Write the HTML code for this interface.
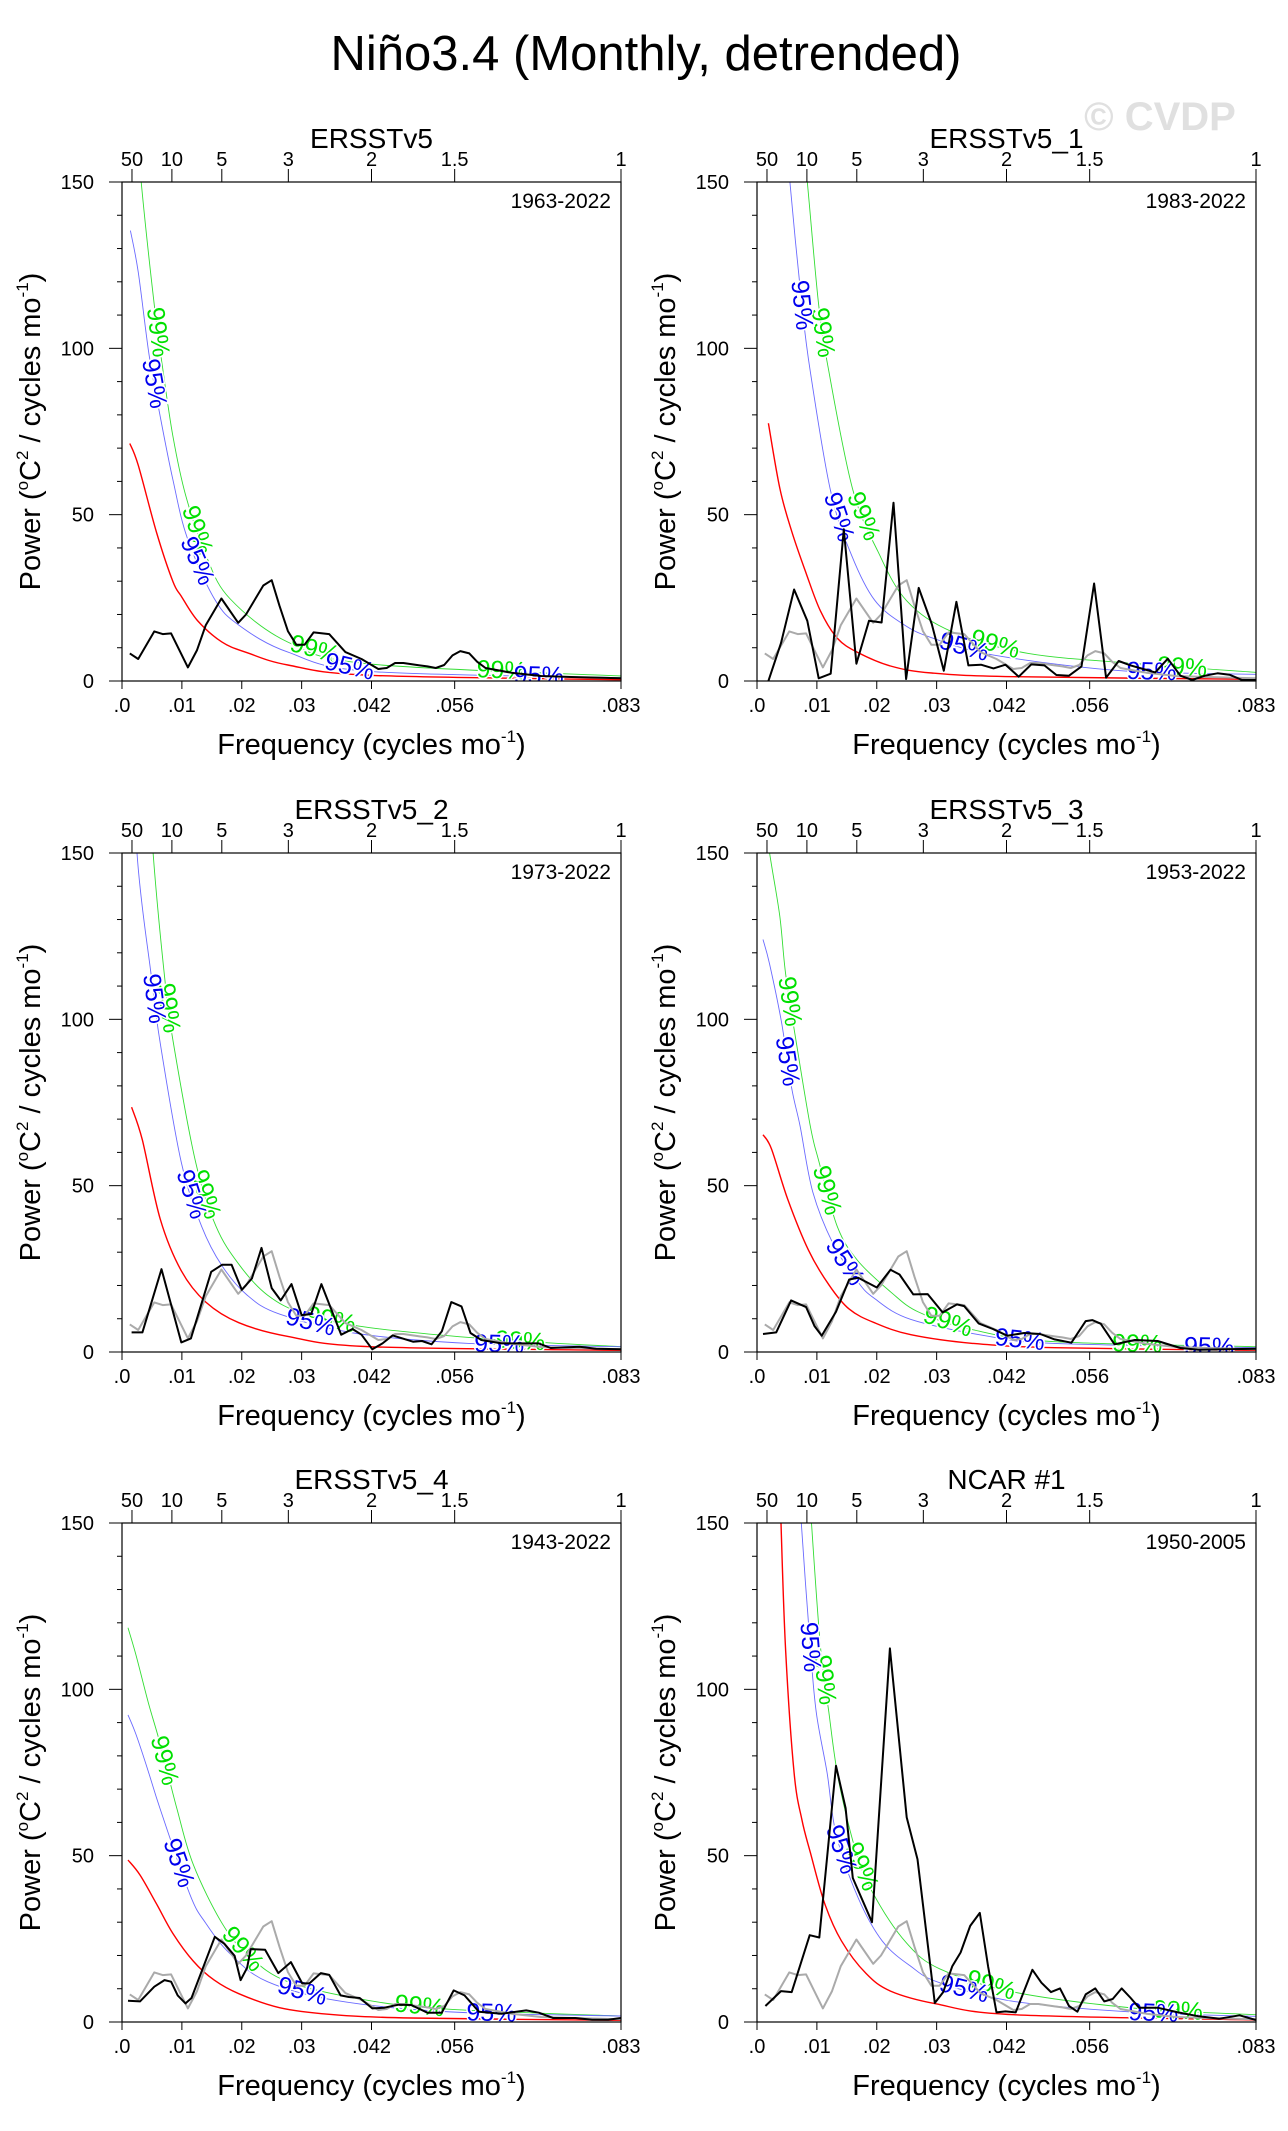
<!DOCTYPE html>
<html><head><meta charset="utf-8"><style>
html,body{margin:0;padding:0;background:#fff;}
svg{display:block;font-family:"Liberation Sans",Arial,sans-serif;}
</style></head><body>
<svg id="chart" width="1288" height="2131" viewBox="0 0 1288 2131" xmlns="http://www.w3.org/2000/svg">
<rect width="1288" height="2131" fill="#fff"/>
<text x="646" y="70" font-size="49" text-anchor="middle" fill="#000">Niño3.4 (Monthly, detrended)</text>
<text x="1160" y="130" font-size="40" font-weight="bold" text-anchor="middle" fill="#e0e0e0">© CVDP</text>
</svg>
<script>
// ---------- data ----------
const panelTitles=["ERSSTv5","ERSSTv5_1","ERSSTv5_2","ERSSTv5_3","ERSSTv5_4","NCAR #1"];
const panelYears=["1963-2022","1983-2022","1973-2022","1953-2022","1943-2022","1950-2005"];
const topPeriods=[50,10,5,3,2,1.5,1];
const bottomTickVals=[0,0.01,0.02,0.03,0.041667,0.055556,0.083333];
const bottomTickLabels=[".0",".01",".02",".03",".042",".056",".083"];
const yTickVals=[0,50,100,150];

// Panel 1 (ERSSTv5)
const p1SpecF=[.0013,.0027,.0054,.0068,.0082,.011,.0125,.014,.0166,.0194,.0207,.0236,.025,.0263,.0277,.0291,.0305,.032,.0346,.0373,.04,.0428,.0442,.0456,.047,.0497,.051,.0524,.0538,.0552,.0565,.058,.0593,.0607,.065,.07,.075,.08,.0833];
const p1SpecV=[8.3,6.6,14.9,14.1,14.3,4.1,9.2,16.8,24.8,17.5,20,28.7,30.3,22.6,15,10.9,10.9,14.6,14.1,8.7,6.6,3.6,3.9,5.4,5.4,4.7,4.4,3.9,4.8,7.7,9,8.3,5.8,3.9,2.5,1.5,1.2,1,0.8];
const p1RedF=[.0013,.0027,.0058,.0085,.0099,.0126,.0167,.0209,.0277,.0414,.0833];
const p1RedV=[71.4,64.9,44.5,29.9,25.5,18.2,11.7,8.5,4.8,1.7,0.4];
const p1BlueF=[.0014,.0027,.0045,.0064,.0085,.0109,.0154,.0195,.0277,.0414,.0833];
const p1BlueV=[135.4,123,98.4,79.4,60.5,43,24.8,16.8,8.7,2.9,1];
const p1GreenF=[.0014,.0032,.0054,.0068,.0085,.0106,.014,.018,.0277,.0414,.0833];
const p1GreenV=[190,150,113,94,73.6,56,37.9,24.8,11.7,5.1,1.5];
const p1BlueLab=[.0054,.0126,.038,.0696];
const p1GreenLab=[.006,.0126,.0322,.0634];

// Panel 2 (ERSSTv5_1)
const p2SpecF=[.0019,.004,.0062,.0084,.0103,.0123,.0145,.0166,.0187,.0208,.0228,.0249,.027,.0292,.0312,.0333,.0353,.0374,.0395,.0415,.0437,.0458,.048,.05,.0521,.0542,.0563,.0583,.0604,.0624,.0645,.0665,.0686,.0707,.0727,.0748,.0769,.0789,.081,.0833];
const p2SpecV=[0,11.4,27.5,18.1,0.8,2.2,45.6,5.2,18.1,17.6,53.6,0.6,28,17.1,3.1,23.8,4.7,4.9,3.8,4.9,1.3,5,4.7,1.8,1.6,4.4,29.3,1,6,4.7,3.6,2.6,6.7,1.6,0.3,1.6,2.3,1.9,0.3,0.3];
const p2RedF=[.0019,.0038,.0058,.0082,.0106,.0134,.0168,.0223,.0292,.0429,.0833];
const p2RedV=[77.5,58,45,32.4,21,12.9,8.6,4.5,2.4,1.3,0.5];
const p2BlueF=[.0035,.0045,.0055,.0075,.0089,.0123,.0158,.0196,.0244,.0292,.0395,.0607,.0833];
const p2BlueV=[200,175,150,113,93,57,37.8,24.4,17.1,13,7.8,3.1,2];
const p2GreenF=[.0055,.007,.0084,.0103,.012,.016,.0202,.025,.0326,.0453,.0635,.0833];
const p2GreenV=[200,175,150,113,93,57.5,38.9,24.1,14.8,8.3,5.2,2.6];
const p2BlueLab=[.0075,.0137,.0346,.0659];
const p2GreenLab=[.011,.0178,.0398,.071];

// Panel 3 (ERSSTv5_2)
const p3SpecF=[.0016,.0034,.0066,.0099,.0115,.0149,.0167,.0183,.02,.0217,.0233,.025,.0265,.0283,.03,.0316,.0333,.0366,.0385,.04,.0418,.0435,.0452,.0486,.0501,.0517,.0534,.055,.0567,.0582,.06,.0634,.0667,.0696,.0716,.0764,.0792,.0833];
const p3SpecV=[5.9,5.9,24.9,2.9,4.1,24.1,26.2,26.2,18.7,22.1,31.3,19.2,15.5,20.4,11.1,11.4,20.4,5.2,6.9,5.2,0.8,2.6,5,3.1,3.3,2.3,6.2,15,13.7,5.7,3.6,2.6,2.6,2.6,1.2,1.6,1,0.8];
const p3RedF=[.0016,.0034,.0064,.0099,.014,.0195,.0277,.0414,.0833];
const p3RedV=[73.6,63.7,39.9,24.4,15,8.8,4.7,1.6,0.5];
const p3BlueF=[.0016,.0025,.0049,.0064,.0099,.0133,.0167,.0209,.0263,.0387,.0579,.0833];
const p3BlueV=[200,150,113,92.7,57,37.8,25.9,17.1,11.4,5.7,2.6,1.6];
const p3GreenF=[.0035,.0052,.0071,.0085,.0123,.0157,.0195,.0243,.0305,.0414,.062,.0833];
const p3GreenV=[200,150,113,93.8,57,37.8,26.4,17.1,11.4,7.3,3.8,1.6];
const p3BlueLab=[.0054,.0116,.0315,.063];
const p3GreenLab=[.0078,.014,.0349,.0665];

// Panel 4 (ERSSTv5_3)
const p4SpecF=[.001,.0032,.0057,.0082,.0096,.0108,.0132,.0154,.0169,.02,.0223,.0238,.0261,.0285,.031,.0334,.0346,.037,.0394,.0418,.0446,.0473,.0497,.0525,.0549,.056,.0574,.0597,.0631,.0669,.0707,.0737,.0785,.0833];
const p4SpecV=[5.4,5.9,15.5,13.5,7.8,4.9,12.1,21.8,22.3,19.4,24.7,23.3,17.3,17.4,11.9,14.3,13.8,8.6,6.9,4.9,5.7,5.4,3.8,2.8,9.3,9.6,8.5,2.3,3.6,3.3,1.2,0.7,0.8,1];
const p4RedF=[.001,.0024,.0051,.0086,.012,.0154,.0196,.0257,.036,.0497,.0833];
const p4RedV=[65.3,61.1,46.1,30.6,20.2,12.9,8.8,5.2,2.6,1.3,0.5];
const p4BlueF=[.001,.0021,.0041,.0058,.0072,.0093,.0127,.0168,.0196,.0257,.0388,.0497,.0833];
const p4BlueV=[124,116.6,99,79.3,67.9,48.2,32.6,21.2,16.1,9.8,4.7,2.6,1.3];
const p4GreenF=[.001,.0021,.0038,.0048,.0065,.0089,.0103,.0134,.0168,.0223,.0271,.036,.0497,.0833];
const p4GreenV=[165,150,131,113.5,93.8,67.9,57.5,37.8,27.5,18.1,11.9,6.7,3.1,1.6];
const p4BlueLab=[.0051,.0147,.0439,.0755];
const p4GreenLab=[.0055,.0117,.0319,.0635];

// Panel 5 (ERSSTv5_4)
const p5SpecF=[.001,.003,.0054,.0071,.0082,.0093,.0106,.0116,.014,.0155,.0171,.0188,.0198,.0209,.0215,.0239,.0261,.0282,.0301,.0313,.0332,.0346,.0365,.0379,.0397,.0418,.0438,.0462,.0483,.051,.0534,.0554,.0572,.0596,.0634,.0675,.0696,.072,.0757,.0785,.0812,.0833];
const p5SpecV=[6.4,6.2,10.6,12.6,12.1,8,5.6,7.2,18.5,25.6,23.5,19.9,12.6,16.3,21.9,21.7,14.7,18,11.6,11.6,14.7,14.2,8,7.5,7.2,4.1,4.3,5.2,5.1,2.8,2.8,9.5,8,3.1,2.5,3.5,2.8,1.2,1.2,0.7,0.7,1.2];
const p5RedF=[.001,.003,.0058,.0085,.0119,.0154,.0195,.0263,.0346,.0483,.0833];
const p5RedV=[48.7,44.2,35.4,26.6,18.3,12.6,8.5,4.3,2.3,1.2,0.5];
const p5BlueF=[.001,.0023,.0044,.0064,.0113,.014,.0181,.0243,.036,.0552,.0833];
const p5BlueV=[92.3,86.6,75.3,63.9,38.5,29.7,20.4,12.1,6.4,3,1.8];
const p5GreenF=[.001,.0023,.0044,.0064,.0092,.0119,.0167,.0209,.0277,.0414,.0552,.0833];
const p5GreenV=[118.5,110.5,96,83.5,63.9,47.3,29.7,20.4,12.1,6.4,3.8,1.8];
const p5BlueLab=[.0095,.0301,.0617];
const p5GreenLab=[.0071,.0202,.0497];

// Panel 6 (NCAR #1)
const p6SpecF=[.0014,.004,.0058,.0088,.0104,.0132,.0148,.016,.0192,.0222,.025,.0268,.0297,.0311,.0326,.034,.0356,.0372,.0386,.04,.0415,.0432,.046,.0475,.0491,.0506,.0521,.0535,.0549,.0565,.058,.0594,.0609,.0624,.0638,.0669,.0703,.0738,.0772,.0806,.0833];
const p6SpecV=[4.8,9.3,9,26.1,25.4,77,64.3,43.3,30,112.3,61.5,48.9,5.7,9,16.7,20.9,28.9,32.8,16.7,2.9,3.2,2.9,15.7,11.8,9,10.1,4.8,3.1,8.3,10.1,6.2,6.9,10.1,7.2,4.3,4.3,2.9,1.7,1,2,0.6];
const p6RedF=[.0028,.0034,.004,.0048,.0062,.0075,.0089,.0113,.0141,.0182,.0223,.0298,.0429,.0833];
const p6RedV=[220,185,150,111.3,74.9,60.8,51,35.6,24.4,14.6,9.3,5.5,2.2,0.6];
const p6BlueF=[.0062,.0068,.0074,.0089,.0099,.0117,.0132,.0168,.0209,.0257,.0305,.0429,.0635,.0833];
const p6BlueV=[195,172,150,112.7,93,74.9,56.6,37.7,24.4,16.7,11.8,6.2,2.9,1.7];
const p6GreenF=[.0079,.0085,.0091,.0106,.012,.0137,.0168,.0199,.025,.0305,.0429,.0635,.0833];
const p6GreenV=[190,170,150,112.7,93,72,49.6,37,23.7,16,9,4.1,2.2];
const p6BlueLab=[.0089,.0141,.0346,.0662];
const p6GreenLab=[.0113,.0175,.0391,.0703];

const panels=[
 {spec:[p1SpecF,p1SpecV],red:[p1RedF,p1RedV],blue:[p1BlueF,p1BlueV],green:[p1GreenF,p1GreenV],bl:p1BlueLab,gl:p1GreenLab,gray:false},
 {spec:[p2SpecF,p2SpecV],red:[p2RedF,p2RedV],blue:[p2BlueF,p2BlueV],green:[p2GreenF,p2GreenV],bl:p2BlueLab,gl:p2GreenLab,gray:true},
 {spec:[p3SpecF,p3SpecV],red:[p3RedF,p3RedV],blue:[p3BlueF,p3BlueV],green:[p3GreenF,p3GreenV],bl:p3BlueLab,gl:p3GreenLab,gray:true},
 {spec:[p4SpecF,p4SpecV],red:[p4RedF,p4RedV],blue:[p4BlueF,p4BlueV],green:[p4GreenF,p4GreenV],bl:p4BlueLab,gl:p4GreenLab,gray:true},
 {spec:[p5SpecF,p5SpecV],red:[p5RedF,p5RedV],blue:[p5BlueF,p5BlueV],green:[p5GreenF,p5GreenV],bl:p5BlueLab,gl:p5GreenLab,gray:true},
 {spec:[p6SpecF,p6SpecV],red:[p6RedF,p6RedV],blue:[p6BlueF,p6BlueV],green:[p6GreenF,p6GreenV],bl:p6BlueLab,gl:p6GreenLab,gray:true}
];

// ---------- drawing ----------
const NS="http://www.w3.org/2000/svg";
const svg=document.getElementById('chart');
function mk(tag,attrs,parent){const e=document.createElementNS(NS,tag);for(const k in attrs)e.setAttribute(k,attrs[k]);(parent||svg).appendChild(e);return e;}
const lefts=[122,757], tops=[182,853,1523], PW=499, PH=499, FMAX=1/12, YMAX=150;

function interp(F,V,f){
  if(f<=F[0])return V[0];
  for(let i=1;i<F.length;i++){if(f<=F[i]){const t=(f-F[i-1])/(F[i]-F[i-1]);return V[i-1]+t*(V[i]-V[i-1]);}}
  return V[V.length-1];
}
function smoothPath(pts){
  let d="M"+pts[0][0].toFixed(1)+","+pts[0][1].toFixed(1);
  for(let i=0;i<pts.length-1;i++){
    const p0=pts[Math.max(0,i-1)],p1=pts[i],p2=pts[i+1],p3=pts[Math.min(pts.length-1,i+2)];
    const c1=[p1[0]+(p2[0]-p0[0])/6,p1[1]+(p2[1]-p0[1])/6],c2=[p2[0]-(p3[0]-p1[0])/6,p2[1]-(p3[1]-p1[1])/6];
    d+=" C"+c1[0].toFixed(1)+","+c1[1].toFixed(1)+" "+c2[0].toFixed(1)+","+c2[1].toFixed(1)+" "+p2[0].toFixed(1)+","+p2[1].toFixed(1);
  }
  return d;
}

panels.forEach((p,pi)=>{
  const L=lefts[pi%2], T=tops[Math.floor(pi/2)];
  const xs=f=>L+f/FMAX*PW, ys=v=>T+PH-v/YMAX*PH;
  const g=mk('g',{});
  
  
  const cp=mk('clipPath',{id:'clip'+pi},g);
  mk('rect',{x:L,y:T,width:PW,height:PH},cp);

  const tt=mk('text',{x:L+PW/2,y:T-34,'font-size':28,'text-anchor':'middle'},g);tt.textContent=panelTitles[pi];
  
  
  const yr=mk('text',{x:L+PW-10,y:T+26,'font-size':21,'text-anchor':'end'},g);yr.textContent=panelYears[pi];
  
  

  const cg=mk('g',{'clip-path':'url(#clip'+pi+')'},g);
  function curve(FV,color,w,name){
    const pts=FV[0].map((f,i)=>[xs(f),ys(FV[1][i])]);
    const path=mk('path',{d:smoothPath(pts),fill:'none',stroke:color,'stroke-width':w},cg);
    
    
  }
  curve(p.green,'#33dd33',0.9,'99-percent-threshold');
  curve(p.blue,'#6a6aff',0.9,'95-percent-threshold');
  curve(p.red,'#ff0000',1.4,'red-noise-fit');
  function labels(FV,list,color,txt,name){
    list.forEach(f=>{
      const x=xs(f),y=ys(interp(FV[0],FV[1],f));
      const x2=xs(f+0.0008),y2=ys(interp(FV[0],FV[1],f+0.0008));
      const x1=xs(f-0.0008),y1=ys(interp(FV[0],FV[1],f-0.0008));
      let a=Math.atan2(y2-y1,x2-x1)*180/Math.PI;
      const t=mk('text',{x:x,y:y+8,'font-size':25,'text-anchor':'middle',fill:color,stroke:'#fff','stroke-width':3,'paint-order':'stroke',transform:'rotate('+a.toFixed(1)+' '+x.toFixed(1)+' '+y.toFixed(1)+')'},cg);
      t.textContent=txt;
      
      
    });
  }
  labels(p.green,p.gl,'#00e000','99%','99-percent-label');
  labels(p.blue,p.bl,'#0000ee','95%','95-percent-label');
  function line(F,V,color,w,name){
    const d=F.map((f,i)=>(i?'L':'M')+xs(f).toFixed(1)+','+ys(V[i]).toFixed(1)).join(' ');
    const path=mk('path',{d:d,fill:'none',stroke:color,'stroke-width':w,'stroke-linejoin':'round'},cg);
    
    
  }
  if(p.gray) line(p1SpecF,p1SpecV,'#aaaaaa',2,'observed-reference-spectrum');
  line(p.spec[0],p.spec[1],'#000',2,'power-spectrum');

  mk('rect',{x:L,y:T,width:PW,height:PH,fill:'none',stroke:'#000','stroke-width':1.2},g);
  for(let v=0;v<=150;v+=10){
    const major=v%50===0;
    mk('line',{x1:L-(major?13:5),x2:L,y1:ys(v),y2:ys(v),stroke:'#000','stroke-width':1},g);
  }
  yTickVals.forEach(v=>{const t=mk('text',{x:L-28,y:ys(v)+7,'font-size':20,'text-anchor':'end'},g);t.textContent=v;
    
    });
  topPeriods.forEach(P=>{const x=xs(1/(12*P));mk('line',{x1:x,x2:x,y1:T-13,y2:T,stroke:'#000','stroke-width':1},g);
    const t=mk('text',{x:x,y:T-16,'font-size':20,'text-anchor':'middle'},g);t.textContent=P;
    
    });
  bottomTickVals.forEach((f,i)=>{const x=xs(f);mk('line',{x1:x,x2:x,y1:T+PH,y2:T+PH+8,stroke:'#000','stroke-width':1},g);
    const t=mk('text',{x:x,y:T+PH+31,'font-size':20,'text-anchor':'middle'},g);t.textContent=bottomTickLabels[i];
    
    });
  const xt=mk('text',{x:L+PW/2,y:T+PH+73,'font-size':29,'text-anchor':'middle'},g);
  xt.innerHTML='Frequency (cycles mo<tspan font-size="17" dy="-12">-1</tspan><tspan dy="12">)</tspan>';
  
  
  const cx=L-82, cy=T+PH/2;
  const yt=mk('text',{x:cx,y:cy,'font-size':29,'text-anchor':'middle',transform:'rotate(-90 '+cx+' '+cy+')'},g);
  yt.innerHTML='Power (<tspan font-size="17" dy="-12">o</tspan><tspan dy="12">C</tspan><tspan font-size="17" dy="-12">2</tspan><tspan dy="12"> / cycles mo</tspan><tspan font-size="17" dy="-12">-1</tspan><tspan dy="12">)</tspan>';
  
  
});
</script>
</body></html>
